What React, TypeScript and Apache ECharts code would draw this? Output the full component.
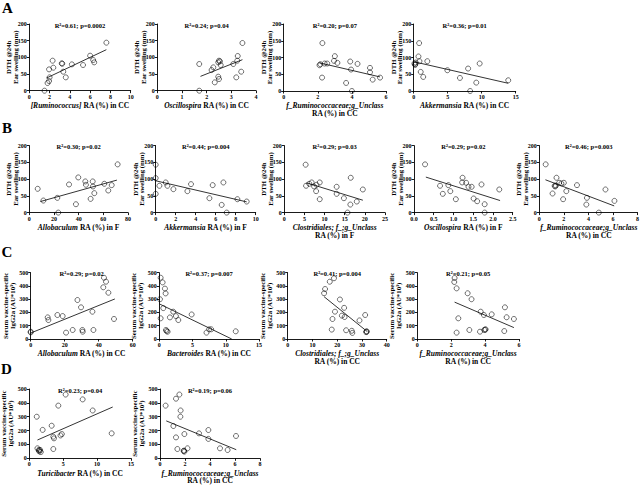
import React, { useEffect, useRef } from 'react';
import * as echarts from 'echarts';

// ---------- DATA ----------
const DTH_TICKS = [0, 200, 50];
const IGG_TICKS = [0, 500, 100];

const A1_PTS = [[1.5,0],[1.8,23],[1.95,29],[2.0,40],[1.95,64],[2.3,90],[2.37,69],[3.2,82],[3.25,81],[3.35,57],[3.6,40],[4.2,79],[5.3,77],[6.0,105],[6.3,92],[6.4,85],[7.6,144]];
const A1_FIT = [[1.7,38],[7.6,123]];
const A2_PTS = [[1.7,80],[1.7,0],[2.2,62],[2.27,70],[2.33,25],[2.5,35],[2.47,42],[2.47,85],[2.54,88],[2.57,77],[2.5,90],[3.08,80],[3.24,90],[3.26,104],[3.2,40],[3.4,57],[3.45,143]];
const A2_FIT = [[1.75,43],[3.45,93]];
const A3_PTS = [[2.1,77],[2.15,80],[2.27,143],[2.25,40],[2.4,82],[2.55,82],[2.95,90],[3.0,104],[3.15,84],[3.9,88],[3.95,64],[4.33,81],[3.66,24],[4.0,0],[5.06,69],[5.06,56],[5.22,34],[5.65,40]];
const A3_FIT = [[2.1,84],[5.65,42]];
const A4_PTS = [[0.1,82],[0.2,78],[0.3,85],[0.25,80],[0.8,143],[0.7,103],[0.85,89],[1.03,57],[1.4,42],[2.0,89],[4.95,62],[6.8,39],[8.0,67],[9.7,82],[9.2,25],[8.3,0],[13.9,32]];
const A4_FIT = [[0.1,87],[13.9,23]];

const B1_PTS = [[6.8,71],[11.4,36],[22.7,44],[23.5,0],[32.2,84],[37.8,25],[39.7,105],[45.4,93],[45.9,83],[49.7,41],[51.4,93],[51.6,78],[52.7,58],[60.8,86],[64,66],[66.8,82],[71.6,144]];
const B1_FIT = [[9,33],[71,97]];
const B2_PTS = [[0,143],[0,103],[0,56],[0.37,80],[1.0,90],[1.17,80],[1.77,70],[3.17,64],[3.53,85],[5.37,43],[5.7,82],[6.6,23],[6.77,90],[7.1,0],[8.17,40],[9.1,33]];
const B2_FIT = [[0,95],[9.1,32]];
const B3_PTS = [[5.3,143],[5.4,80],[6.2,86],[6.8,90],[7.4,78],[8.0,83],[7.9,64],[8.8,90],[8.8,40],[13.0,77],[13.0,56],[14.8,43],[16.5,104],[16.4,24],[15.7,0],[18.0,33],[19.5,69]];
const B3_FIT = [[5.5,89],[19.5,37]];
const B4_PTS = [[0.28,144],[0.66,80],[0.73,56],[0.87,82],[0.92,64],[1.06,40],[1.23,104],[1.22,90],[1.32,89],[1.38,77],[1.46,77],[1.51,42],[1.6,34],[1.71,84],[1.79,25],[1.79,0],[2.16,69]];
const B4_FIT = [[0.3,106],[2.18,36]];
const B5_PTS = [[0.52,144],[1.08,57],[1.4,104],[1.25,80],[1.3,78],[1.35,81],[1.62,89],[1.8,87],[2.0,89],[1.94,40],[2.2,64],[3.07,82],[3.88,44],[3.83,24],[4.85,0],[5.39,69],[6.12,35]];
const B5_FIT = [[0.5,98],[6.1,20]];

const C1_PTS = [[0,55],[0,50],[10,163],[10.4,143],[15.7,181],[18.8,173],[20.8,48],[24.7,68],[27.5,294],[29.6,239],[30.4,68],[30.6,55],[36.3,206],[36.9,68],[42.7,390],[43.1,462],[44.3,432],[45.7,349],[49,151]];
const C1_FIT = [[0,45],[49.5,302]];
const C2_PTS = [[0.2,462],[0.5,427],[0.1,300],[0.2,156],[0.85,380],[0.95,344],[0.6,233],[1.0,68],[1.1,60],[1.25,55],[1.6,163],[2.1,206],[2.5,173],[2.86,143],[4.87,185],[7.1,48],[7.5,73],[7.8,73],[11.5,58]];
const C2_FIT = [[0,265],[10.9,0]];
const C3_PTS = [[14.7,345],[15.1,377],[17,432],[18.7,458],[21.1,298],[19.1,206],[18.1,151],[17.8,71],[21.9,176],[23,166],[22.8,235],[23.6,66],[25.9,62],[26.1,46],[29,140],[31.3,181],[31.9,55],[31.9,58],[31.7,52]];
const C3_FIT = [[14.7,319],[32.2,55]];
const C4_PTS = [[2.2,460],[2.18,430],[2.32,382],[2.42,156],[2.32,48],[2.97,345],[3.2,300],[3.07,68],[3.74,206],[3.7,55],[3.93,181],[4.03,73],[4.0,70],[4.39,186],[5.17,239],[5.27,164],[5.13,60],[5.7,151],[3.95,68]];
const C4_FIT = [[2.2,278],[5.7,86]];

const D1_PTS = [[1.1,300],[1.2,72],[1.4,55],[1.5,50],[1.6,60],[1.7,45],[1.45,62],[1.97,205],[3.3,235],[3.54,156],[3.64,144],[3.54,67],[4.28,380],[4.6,165],[4.8,175],[5.36,460],[7.87,425],[9.35,345],[12.15,180]];
const D1_FIT = [[1.2,132],[12.3,370]];
const D2_PTS = [[0.45,380],[1.07,233],[1.28,430],[1.55,460],[1.65,345],[1.63,300],[1.28,151],[1.39,67],[1.95,175],[1.89,53],[1.95,48],[1.92,55],[2.2,72],[3.12,180],[3.87,204],[3.87,140],[4.8,72],[5.41,60],[6.08,161]];
const D2_FIT = [[0.5,270],[6.1,62]];

const DTH_NAME = ['DTH @24h', 'Ear swelling (mm)'];
const IGG_NAME = ['Serum vaccine-specific', 'IgG2a (AU*10³)'];

// x-axis names: each line = [italic part, bold part]
const PANELS = [
  { title: 'R²=0.61; p=0.0002', xName: [['[Ruminococcus]', ' RA (%) in CC']], xTicks: [0, 10, 2], yTicks: DTH_TICKS, yName: DTH_NAME, pts: A1_PTS, fit: A1_FIT },
  { title: 'R²=0.24; p=0.04', xName: [['Oscillospira', ' RA (%) in CC']], xTicks: [0, 4, 1], yTicks: DTH_TICKS, yName: DTH_NAME, pts: A2_PTS, fit: A2_FIT },
  { title: 'R²=0.20; p=0.07', xName: [['f_Ruminococcaceae;g_Unclass', ''], ['', 'RA (%) in CC']], xTicks: [0, 6, 2], yTicks: DTH_TICKS, yName: DTH_NAME, pts: A3_PTS, fit: A3_FIT },
  { title: 'R²=0.36; p=0.01', xName: [['Akkermansia', ' RA (%) in CC']], xTicks: [0, 15, 5], yTicks: DTH_TICKS, yName: DTH_NAME, pts: A4_PTS, fit: A4_FIT },
  { title: 'R²=0.30; p=0.02', xName: [['Allobaculum', ' RA (%) in F']], xTicks: [0, 80, 20], yTicks: DTH_TICKS, yName: DTH_NAME, pts: B1_PTS, fit: B1_FIT },
  { title: 'R²=0.44; p=0.004', xName: [['Akkermansia', ' RA (%) in F']], xTicks: [0, 10, 2], yTicks: DTH_TICKS, yName: DTH_NAME, pts: B2_PTS, fit: B2_FIT },
  { title: 'R²=0.29; p=0.03', xName: [['Clostridiales; f_;g_Unclass', ''], ['', 'RA (%) in F']], xTicks: [0, 25, 5], yTicks: DTH_TICKS, yName: DTH_NAME, pts: B3_PTS, fit: B3_FIT },
  { title: 'R²=0.29; p=0.02', xName: [['Oscillospira', ' RA (%) in F']], xTicks: [0, 2.5, 0.5], yTicks: DTH_TICKS, yName: DTH_NAME, pts: B4_PTS, fit: B4_FIT, dec: 1 },
  { title: 'R²=0.46; p=0.003', xName: [['f_Ruminococcaceae;g_Unclass', ''], ['', 'RA (%) in CC']], xTicks: [0, 8, 2], yTicks: DTH_TICKS, yName: DTH_NAME, pts: B5_PTS, fit: B5_FIT },
  { title: 'R²=0.29; p=0.02', xName: [['Allobaculum', ' RA (%) in CC']], xTicks: [0, 60, 20], yTicks: IGG_TICKS, yName: IGG_NAME, pts: C1_PTS, fit: C1_FIT },
  { title: 'R²=0.37; p=0.007', xName: [['Bacteroides', ' RA (%) in CC']], xTicks: [0, 15, 5], yTicks: IGG_TICKS, yName: IGG_NAME, pts: C2_PTS, fit: C2_FIT },
  { title: 'R²=0.41; p=0.004', xName: [['Clostridiales; f_;g_Unclass', ''], ['', 'RA (%) in CC']], xTicks: [0, 40, 10], yTicks: IGG_TICKS, yName: IGG_NAME, pts: C3_PTS, fit: C3_FIT },
  { title: 'R²=0.21; p=0.05', xName: [['f_Ruminococcaceae;g_Unclass', ''], ['', 'RA (%) in CC']], xTicks: [0, 6, 2], yTicks: IGG_TICKS, yName: IGG_NAME, pts: C4_PTS, fit: C4_FIT },
  { title: 'R²=0.23; p=0.04', xName: [['Turicibacter', ' RA (%) in CC']], xTicks: [0, 15, 5], yTicks: IGG_TICKS, yName: IGG_NAME, pts: D1_PTS, fit: D1_FIT },
  { title: 'R²=0.19; p=0.06', xName: [['f_Ruminococcaceae;g_Unclass', ''], ['', 'RA (%) in CC']], xTicks: [0, 8, 2], yTicks: IGG_TICKS, yName: IGG_NAME, pts: D2_PTS, fit: D2_FIT },
];

const PANEL_LETTERS = ['A', 'B', 'C', 'D'];

// ---------- LAYOUT (style) ----------
const GRIDS = [
  [29.3, 24, 101.4, 66.7], [157.3, 24, 98.7, 66.7], [283.7, 24, 102.3, 67], [413.7, 24, 102, 67],
  [29.3, 145.6, 98.7, 67], [155.7, 145.6, 100, 67], [284.3, 145.6, 100.7, 67], [414, 145.6, 98.7, 67], [539.3, 145.6, 99, 67],
  [30.7, 272.7, 102, 66.3], [159.3, 272.7, 99.7, 66.3], [287.7, 272.7, 99, 66.3], [417.3, 272.7, 101.7, 66.3],
  [29.3, 389, 101.7, 69.3], [160, 389, 100, 69.3],
];
const LETTER_POS = [[7.5, 8], [7, 128], [7, 252], [6.5, 369]];

const F = 'Liberation Serif';
const NAME_FS = 7.5;

export default function App() {
  const ref = useRef<HTMLDivElement>(null);
  useEffect(() => {
    if (!ref.current) return;
    const chart = echarts.init(ref.current, undefined, { renderer: 'svg' });
    const axisBase = {
      axisLine: { show: true, onZero: false, lineStyle: { color: '#000', width: 0.9 } },
      axisTick: { show: true, length: 2.5, lineStyle: { color: '#000', width: 0.9 } },
      splitLine: { show: false },
    };
    const labelStyle = { fontFamily: F, fontWeight: 'bold', fontSize: 6, color: '#000' };
    const rich = {
      i: { fontFamily: F, fontStyle: 'italic', fontWeight: 'bold', fontSize: NAME_FS, color: '#000', lineHeight: 7.8 },
      b: { fontFamily: F, fontWeight: 'bold', fontSize: NAME_FS, color: '#000', lineHeight: 7.8 },
    };
    const grid: any[] = [];
    const xAxis: any[] = [];
    const yAxis: any[] = [];
    const series: any[] = [];
    const graphic: any[] = [];
    const title: any[] = [];
    PANELS.forEach((p, i) => {
      const [l, t, w, h] = GRIDS[i];
      grid.push({ left: l, top: t, width: w, height: h, containLabel: false });
      xAxis.push({
        gridIndex: i, type: 'value', min: p.xTicks[0], max: p.xTicks[1], interval: p.xTicks[2],
        ...axisBase,
        axisLabel: { ...labelStyle, margin: 3, formatter: (v: number) => (p.dec ? v.toFixed(p.dec) : String(v)) },
      });
      yAxis.push({
        gridIndex: i, type: 'value', min: p.yTicks[0], max: p.yTicks[1], interval: p.yTicks[2],
        ...axisBase,
        axisLabel: { ...labelStyle, margin: 2.5 },
      });
      series.push({
        type: 'scatter', xAxisIndex: i, yAxisIndex: i, data: p.pts, symbol: 'circle', symbolSize: 5,
        itemStyle: { color: 'rgba(0,0,0,0)', borderColor: '#000', borderWidth: 0.7 }, clip: false, silent: true,
      });
      series.push({
        type: 'line', xAxisIndex: i, yAxisIndex: i, data: p.fit, symbol: 'none',
        lineStyle: { color: '#000', width: 0.8 }, silent: true,
      });
      title.push({
        text: p.title, left: l + w / 2, top: t + 1, textAlign: 'center', textVerticalAlign: 'middle', padding: 0,
        textStyle: { fontFamily: F, fontWeight: 'bold', fontSize: 6.5, color: '#000' },
      });
      const text = p.xName.map((parts) => {
        let s = '';
        if (parts[0]) s += '{i|' + parts[0] + '}';
        if (parts[1]) s += '{b|' + parts[1] + '}';
        return s;
      }).join('\n');
      title.push({
        text, left: l + w / 2, top: t + h + 11, textAlign: 'center', textVerticalAlign: 'top', padding: 0,
        textStyle: { rich, fontFamily: F, fontWeight: 'bold', fontSize: NAME_FS, color: '#000' },
      });
      const isIgg = p.yTicks === IGG_TICKS;
      const offs = isIgg ? [25.5, 18.5] : [20.5, 14];
      p.yName.forEach((s, k) => {
        graphic.push({
          type: 'text', x: l - offs[k], y: t + h / 2, rotation: Math.PI / 2,
          style: { text: s, fontFamily: F, fontWeight: 'bold', fontSize: 6.8, fill: '#000', align: 'center', verticalAlign: 'middle' },
        });
      });
    });
    PANEL_LETTERS.forEach((s, i) => {
      title.push({
        text: s, left: LETTER_POS[i][0], top: LETTER_POS[i][1], textAlign: 'center', textVerticalAlign: 'middle', padding: 0,
        textStyle: { fontFamily: F, fontWeight: 'bold', fontSize: 15, color: '#000' },
      });
    });
    chart.setOption({ animation: false, backgroundColor: '#fff', title, grid, xAxis, yAxis, series, graphic });
    return () => chart.dispose();
  }, []);
  return <div ref={ref} style={{ position: 'absolute', left: 0, top: 0, width: 642, height: 486 }} />;
}
